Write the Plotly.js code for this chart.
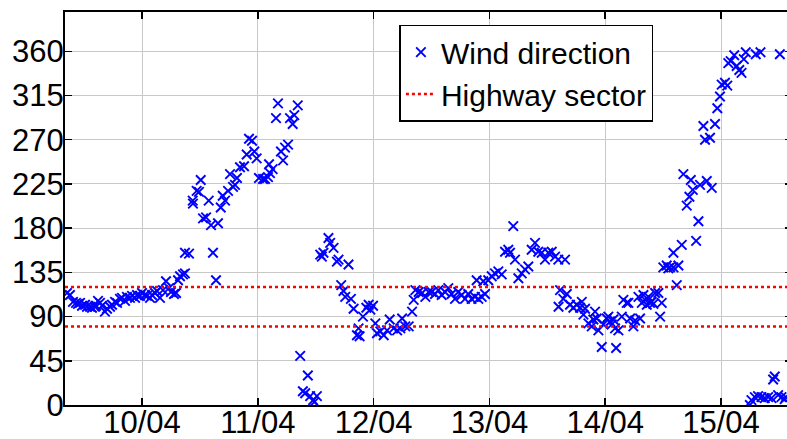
<!DOCTYPE html>
<html>
<head>
<meta charset="utf-8">
<script src="https://cdn.plot.ly/plotly-3.0.1.min.js"></script>
<style>
  html, body { margin: 0; padding: 0; overflow: hidden; background: #ffffff; }
  #chart { width: 792px; height: 439px; }
</style>
</head>
<body>
<div id="chart"></div>
<script>
// Day of April (fractional) for each observation
const windDay = [
  9.352, 9.378, 9.404, 9.430, 9.447, 9.465, 9.482, 9.508, 9.525, 9.551,
  9.568, 9.594, 9.603, 9.620, 9.637, 9.655, 9.680, 9.698, 9.724, 9.741,
  9.767, 9.784, 9.810, 9.827, 9.853, 9.870, 9.896, 9.914, 9.940, 9.957,
  9.983, 10.000, 10.026, 10.043, 10.069, 10.086, 10.112, 10.130, 10.155, 10.181,
  10.207, 10.233, 10.250, 10.276, 10.294, 10.311, 10.328, 10.354, 10.371, 10.371,
  10.406,
  10.438, 10.440, 10.472, 10.492, 10.507, 10.527, 10.553, 10.576, 10.596, 10.613,
  10.639, 10.656, 10.680, 10.697, 10.717, 10.743, 10.760, 10.786, 10.803, 10.820,
  10.846, 10.881, 10.904, 10.924, 10.950, 10.970, 10.990, 11.010, 11.045, 11.062,
  11.088, 11.097, 11.105, 11.128, 11.157, 11.174, 11.200, 11.218, 11.235, 11.261,
  11.278, 11.301, 11.315, 11.345,
  11.366, 11.389, 11.409, 11.432, 11.452, 11.478, 11.487, 11.510, 11.539, 11.553,
  11.567, 11.610, 11.625, 11.654, 11.683, 11.697, 11.720, 11.740, 11.755, 11.783,
  11.804, 11.827, 11.856, 11.870, 11.879, 11.908, 11.937, 11.957, 11.972, 11.995,
  12.015, 12.029, 12.058, 12.087, 12.116, 12.139, 12.173, 12.203, 12.231, 12.246,
  12.274, 12.303, 12.332, 12.346, 12.361, 12.389, 12.419, 12.447, 12.476,
  12.502, 12.530, 12.559, 12.588, 12.617, 12.645, 12.674, 12.703, 12.731, 12.760,
  12.789, 12.817, 12.846, 12.875, 12.890, 12.904, 12.933, 12.947, 12.962, 12.990,
  13.020, 13.048, 13.077, 13.106, 13.135, 13.163, 13.178, 13.206, 13.221, 13.250,
  13.279, 13.307, 13.336, 13.365, 13.394, 13.422, 13.452, 13.480, 13.509, 13.538,
  13.567, 13.595, 13.597, 13.610, 13.638, 13.653, 13.668, 13.696, 13.725, 13.754,
  13.783, 13.798, 13.812, 13.826, 13.855, 13.884, 13.898, 13.912, 13.927, 13.941,
  13.970, 13.984, 14.013, 14.027, 14.042, 14.057, 14.070, 14.085, 14.094, 14.114,
  14.143, 14.157, 14.186, 14.200, 14.215, 14.243, 14.258, 14.287, 14.301, 14.316,
  14.330, 14.344, 14.359, 14.373, 14.387, 14.402, 14.416, 14.431, 14.459, 14.474,
  14.488, 14.502, 14.531, 14.545, 14.560, 14.589, 14.589, 14.618, 14.632, 14.661,
  14.675, 14.704, 14.727, 14.739, 14.756, 14.785, 14.805, 14.819, 14.848, 14.862,
  14.877, 14.905, 14.920, 14.948, 14.968, 14.991, 15.006, 15.034, 15.054, 15.063,
  15.083, 15.114, 15.135, 15.158, 15.177, 15.197, 15.214, 15.249, 15.263, 15.292,
  15.300, 15.320, 15.341, 15.349, 15.378, 15.407, 15.436, 15.450, 15.464, 15.493,
  15.508, 15.522, 15.550, 15.559
];

// Wind direction in degrees for each observation
const windDir = [
  114, 112, 105, 104, 103, 104, 101, 102, 100, 100,
  99, 100, 101, 106, 104, 101, 95, 98, 100, 102,
  105, 104, 108, 109, 106, 110, 109, 111, 109, 112,
  111, 114, 112, 111, 109, 112, 114, 116, 109, 117,
  126, 119, 115, 113, 114, 127, 131, 133, 134, 155,
  154,
  208, 205, 218, 217, 229, 190, 191, 208, 183, 155,
  127, 185, 201, 213, 208, 218, 235, 222, 224, 231,
  242, 243, 255, 271, 269, 258, 251, 231, 230, 230,
  232, 245, 236, 240, 292, 307, 258, 249, 262, 265,
  292, 286, 295, 305,
  50, 14, 12, 30, 9, 5, 3, 9, 153, 151,
  155, 170, 165, 160, 146, 148, 122, 116, 110, 143,
  108, 98, 71, 78, 70, 90, 99, 102, 97, 101,
  83, 73, 75, 71, 76, 87, 78, 76, 78, 88,
  80, 80, 95, 107, 117, 115, 114, 110, 115,
  115, 113, 117, 112, 115, 119, 113, 108, 115, 112,
  108, 113, 108, 110, 127, 108, 110, 126, 113, 127,
  131, 134, 136, 133, 156, 158, 155, 182, 148, 129,
  134, 138, 141, 158, 165, 156, 155, 148, 155, 156,
  151, 148, 100, 117, 108, 148, 113, 102, 99, 102,
  99, 105, 92, 98, 83, 80, 87, 95, 88, 76,
  59, 82, 88, 90, 85, 82, 87, 78, 58, 76,
  90, 107, 104, 104, 88, 80, 86, 110, 88, 104,
  112, 107, 102, 110, 104, 105, 103, 114, 114, 90,
  104, 140, 142, 139, 140, 140, 155, 122, 142, 163,
  235, 203, 212, 229, 219, 167, 187, 224, 284, 270,
  228, 272, 221, 286, 302, 314, 326, 328, 325, 348,
  350, 356, 345, 341, 338, 352, 359, 0, 5, 8,
  357, 9, 359, 8, 7, 8, 7, 26, 29, 10,
  357, 8, 6, 8
];

// Highway sector bounds (degrees)
const sectorLow = 80;
const sectorHigh = 120;

// Axis ticks
const dayTicks = [10, 11, 12, 13, 14, 15];
const dayLabels = ['10/04', '11/04', '12/04', '13/04', '14/04', '15/04'];
const dirTicks = [0, 45, 90, 135, 180, 225, 270, 315, 360];
const xRange = [9.335, 15.613];
const yRange = [0, 400];

const fontFamily = '"Liberation Sans", Arial, sans-serif';

const windTrace = {
  x: windDay,
  y: windDir,
  type: 'scatter',
  mode: 'markers',
  name: 'Wind direction',
  marker: {
    symbol: 'x-thin-open',
    size: 9.5,
    color: '#0000ff',
    line: { color: '#0000ff', width: 1.9 }
  }
};

const sectorTrace = {
  x: [xRange[0], xRange[1], null, xRange[0], xRange[1]],
  y: [sectorHigh, sectorHigh, null, sectorLow, sectorLow],
  type: 'scatter',
  mode: 'lines',
  name: 'Highway sector',
  connectgaps: false,
  line: { color: '#ff0000', width: 2.5, dash: 'dot' }
};

const axisCommon = {
  ticks: 'inside',
  ticklen: 7,
  tickwidth: 1.5,
  tickcolor: '#000000',
  showline: true,
  linewidth: 2,
  linecolor: '#000000',
  mirror: 'ticks',
  showgrid: true,
  gridcolor: '#c8c8c8',
  gridwidth: 1,
  zeroline: false,
  tickfont: { family: fontFamily, size: 31, color: '#000000' }
};

const layout = {
  width: 792,
  height: 439,
  margin: { l: 65, r: 0, t: 12, b: 34, pad: 0 },
  paper_bgcolor: '#ffffff',
  plot_bgcolor: '#ffffff',
  showlegend: true,
  font: { family: fontFamily, size: 30, color: '#000000' },
  xaxis: Object.assign({}, axisCommon, {
    range: xRange,
    tickmode: 'array',
    tickvals: dayTicks,
    ticktext: dayLabels,
    ticklabelstandoff: -11
  }),
  yaxis: Object.assign({}, axisCommon, {
    range: yRange,
    tickmode: 'array',
    tickvals: dirTicks,
    ticklabelstandoff: -7
  }),
  legend: {
    x: 0.46,
    y: 0.968,
    xanchor: 'left',
    yanchor: 'top',
    bgcolor: '#ffffff',
    bordercolor: '#000000',
    borderwidth: 1.5,
    font: { family: fontFamily, size: 30, color: '#000000' },
    tracegroupgap: 0
  }
};

Plotly.newPlot('chart', [windTrace, sectorTrace], layout, { staticPlot: true, displayModeBar: false });
</script>
</body>
</html>
